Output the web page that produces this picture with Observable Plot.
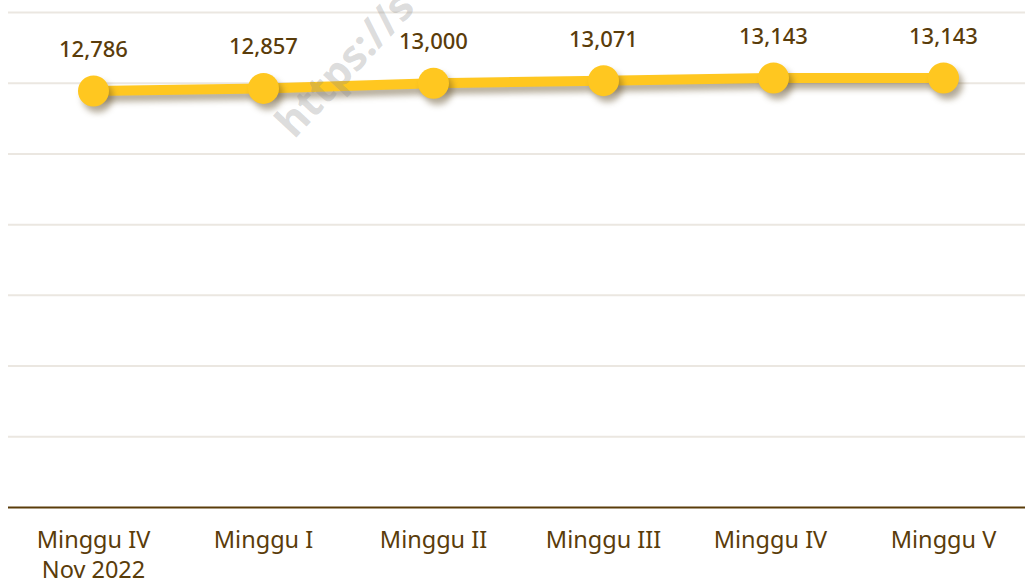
<!DOCTYPE html>
<html>
<head>
<meta charset="utf-8">
<script src="https://cdn.jsdelivr.net/npm/d3@7"></script>
<script src="https://cdn.jsdelivr.net/npm/@observablehq/plot@0.6"></script>
<style>
  html, body { margin: 0; padding: 0; background: #fff; overflow: hidden; }
  #chart svg { display: block; }
  #chart g[aria-label="line"], #chart g[aria-label="dot"] {
    filter: drop-shadow(4px 6px 3px rgba(90, 70, 30, 0.45));
  }
</style>
</head>
<body>
<div id="chart"></div>
<script>
const categories = ["Minggu IV\nNov 2022", "Minggu I", "Minggu II", "Minggu III", "Minggu IV ", "Minggu V"];
const values = [12786, 12857, 13000, 13071, 13143, 13143];
const labels = ["12,786", "12,857", "13,000", "13,071", "13,143", "13,143"];
const yMin = 1300, yStep = 1950, yCount = 7;
const gridValues = d3.range(1, yCount + 1).map(i => yMin + i * yStep);

const data = categories.map((c, i) => ({cat: c, value: values[i], label: labels[i]}));
const brown = "#5a3c0a";
const yellow = "#FFC720";

const chart = Plot.plot({
  width: 1025,
  height: 579,
  marginLeft: 8,
  marginRight: 0,
  marginTop: 12,
  marginBottom: 72,
  style: {fontFamily: "'Noto Sans', sans-serif", background: "#fff", overflow: "visible"},
  x: {type: "point", domain: categories, range: [93, 943], padding: 0, label: null},
  y: {domain: [yMin, yMin + yCount * yStep], label: null, axis: null},
  marks: [
    Plot.ruleY(gridValues, {stroke: "#ebe7e1", strokeWidth: 2}),
    Plot.ruleY([yMin], {stroke: brown, strokeWidth: 2}),
    Plot.axisX({tickSize: 0, tickPadding: 20, fontSize: 23.5, fill: brown, lineHeight: 1.25, textAnchor: "middle"}),
    Plot.line(data, {x: "cat", y: "value", stroke: yellow, strokeWidth: 10}),
    Plot.dot(data, {x: "cat", y: "value", r: 15.5, fill: yellow, stroke: null}),
    Plot.text(data, {x: "cat", y: "value", text: "label", dy: -34, lineAnchor: "bottom", fontSize: 22, fill: brown, fontWeight: 500}),
    Plot.text(["https://s"], {frameAnchor: "top-left", dx: 276, dy: 118, rotate: -47, textAnchor: "start", lineAnchor: "middle", fontSize: 42, fontWeight: "bold", fill: "#888", fillOpacity: 0.3})
  ]
});
document.getElementById("chart").appendChild(chart);
</script>
</body>
</html>
